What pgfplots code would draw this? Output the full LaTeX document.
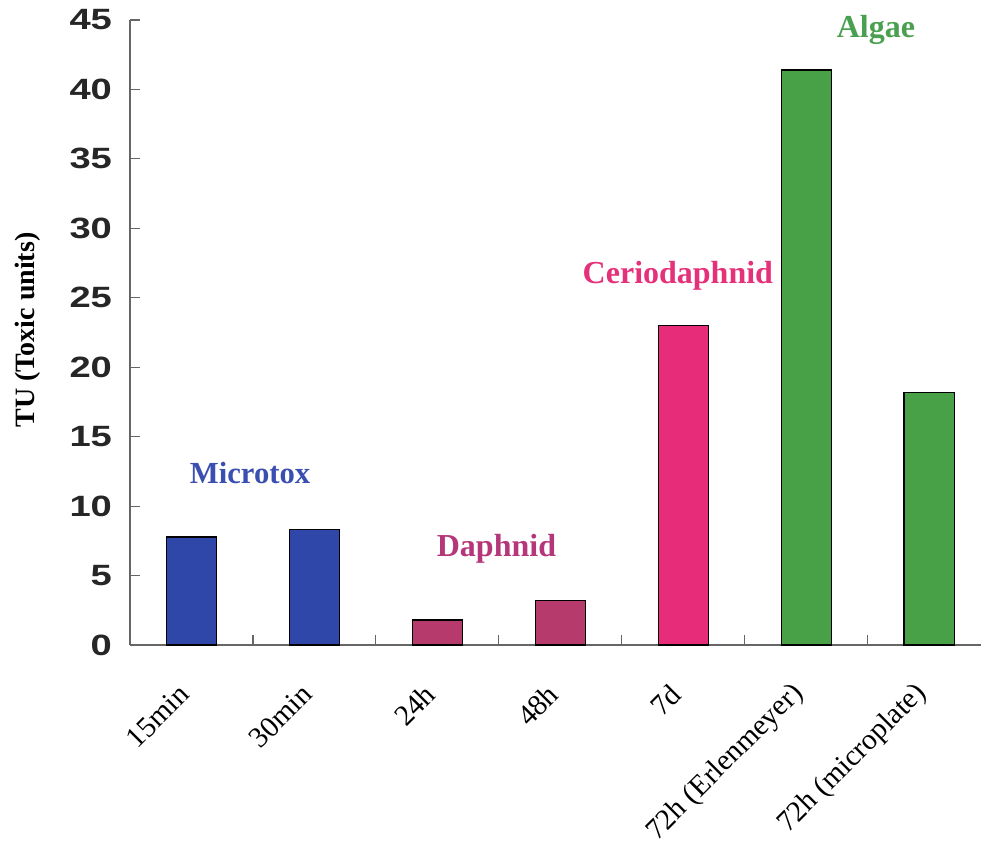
\documentclass[border=0pt]{standalone}
\usepackage{pgfplots}
\pgfplotsset{compat=1.18}
\usepackage{fontspec}
\setmainfont{Liberation Serif}
\newfontfamily\arialfont[FakeStretch=1.3]{Liberation Sans Bold}
\definecolor{mblue}{HTML}{2F47A8}
\definecolor{dmag}{HTML}{B73A6C}
\definecolor{cpink}{HTML}{E72C7A}
\definecolor{agreen}{HTML}{48A047}
\definecolor{tblue}{HTML}{3A4FB0}
\definecolor{tmag}{HTML}{B5377A}
\definecolor{tpink}{HTML}{E5307A}
\definecolor{tgreen}{HTML}{4AA050}
\begin{document}
\begin{tikzpicture}
\begin{axis}[
  scale only axis,
  width=638.25pt, height=468.75pt,
  xmin=-0.5, xmax=6.42, ymin=0, ymax=45,
  axis x line*=bottom, axis y line*=left,
  axis line style={gray!80!black, line width=0.8pt},
  tick style={gray!80!black, line width=0.8pt},
  tick align=inside,
  ytick={0,5,...,45},
  yticklabel style={font=\arialfont\fontsize{22}{22}\selectfont, xshift=-10pt, text=black!85},
  /pgf/number format/assume math mode=true,
  xtick={0,...,6},
  xticklabels={15min,30min,24h,48h,7d,72h (Erlenmeyer),72h (microplate)},
  major x tick style={draw=none},
  minor xtick={0.5,1.5,...,5.5},
  minor tick length=7.5pt,
  major tick length=7.5pt,
  xticklabel style={yshift=-31pt, xshift=-3pt, rotate=45, anchor=east, font=\fontsize{22}{22}\selectfont},
  ylabel={\textbf{TU (Toxic units)}},
  ylabel style={font=\fontsize{21}{21}\selectfont, at={(axis description cs:-0.12,0.504)}, rotate=0, anchor=center},
  clip=false,
]
\addplot[ybar, bar width=0.41, fill=mblue, draw=black, line width=1pt] coordinates {(0,7.77) (1,8.3)};
\addplot[ybar, bar width=0.41, fill=dmag, draw=black, line width=1pt] coordinates {(2,1.8) (3,3.2)};
\addplot[ybar, bar width=0.41, fill=cpink, draw=black, line width=1pt] coordinates {(4,23.0)};
\addplot[ybar, bar width=0.41, fill=agreen, draw=black, line width=1pt] coordinates {(5,41.4) (6,18.2)};
\node[text=tblue, font=\bfseries\fontsize{23}{23}\selectfont] at (axis cs:0.476,12.35) {Microtox};
\node[text=tmag, font=\bfseries\fontsize{24}{24}\selectfont] at (axis cs:2.48,6.96) {Daphnid};
\node[text=tpink, font=\bfseries\fontsize{24}{24}\selectfont] at (axis cs:3.955,26.6) {Ceriodaphnid};
\node[text=tgreen, font=\bfseries\fontsize{24}{24}\selectfont] at (axis cs:5.565,44.3) {Algae};
\end{axis}
\pgfresetboundingbox
\path[use as bounding box] (-97.5pt,-153.75pt) rectangle (638.25pt,483.75pt);
\end{tikzpicture}
\end{document}
